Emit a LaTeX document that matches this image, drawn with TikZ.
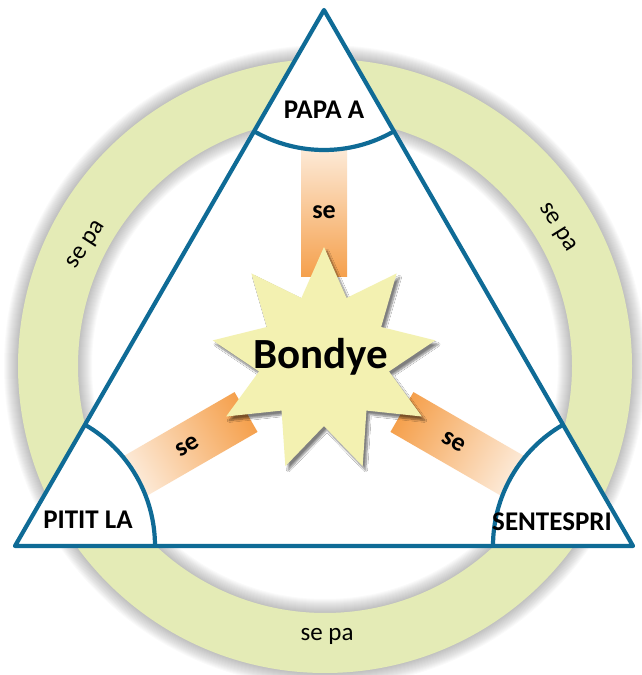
\documentclass[tikz,border=0pt]{standalone}
\usepackage{fontspec}
\setmainfont{Carlito}
\usetikzlibrary{shadows.blur}
\definecolor{triblue}{HTML}{0F6B96}
\definecolor{ringgreen}{HTML}{E4EBB6}
\definecolor{staryellow}{HTML}{F3F1B1}
\definecolor{beamorange}{HTML}{F5A04C}
\definecolor{beampeach}{HTML}{FDEEDF}
\tikzset{
  side/.style={draw=triblue,line width=4.2pt,line join=round},
  corner/.style={font=\bfseries\fontsize{27}{27}\selectfont,text=black},
  beamlabel/.style={font=\bfseries\fontsize{26}{26}\selectfont},
  ringlabel/.style={font=\fontsize{25}{25}\selectfont},
}
\begin{document}
\begin{tikzpicture}[x=1pt,y=1pt]
  \useasboundingbox (0,0) rectangle (641,675);
  \coordinate (O) at (325,309);
  \coordinate (C) at (324,308);
  \coordinate (S) at (324,315);
  \coordinate (A) at (324,665);
  \coordinate (BL) at (15,129);
  \coordinate (BR) at (633,129);
  % ring with its soft edge
  \foreach \w in {2,4,...,28}{
    \draw[black,opacity=.02,line width=\w pt] (O) circle (307) (O) circle (247);
  }
  \fill[ringgreen,even odd rule] (O) circle (307) (O) circle (247);
  \fill[white] (A) -- (BL) -- (BR) -- cycle;
  % beams
  \foreach \r in {0,120,240}{
    \shade[transform canvas={rotate around={\r:(C)}},top color=beampeach,bottom color=beamorange]
      ([shift={(-23,90)}]C) rectangle ([shift={(23,225)}]C);
  }
  \fill[white] (A) -- ++(240:140) arc (240:300:140) -- cycle;
  \fill[white] (BL) -- ++(0:140) arc (0:60:140) -- cycle;
  \fill[white] (BR) -- ++(120:140) arc (120:180:140) -- cycle;
  % star
  \path[fill=staryellow,blur shadow={shadow xshift=3pt,shadow yshift=-4pt,shadow blur steps=8,shadow opacity=50}]
    ([shift={(70:66)}]S)
    \foreach \i in {0,...,8}{ -- ([shift={(90+40*\i:113)}]S) -- ([shift={(110+40*\i:66)}]S) } -- cycle;
  \node[font=\bfseries\fontsize{43}{43}\selectfont] (bondye) at (321,318) {Bondye};
  \node[beamlabel] (seA) at ([shift={(90:155)}]C) {se};
  \node[beamlabel,rotate=30] (seB) at ([shift={(210:158)}]C) {se};
  \node[beamlabel,rotate=-30] (seC) at ([shift={(330:150)}]C) {se};
  % triangle
  \draw[side] ([shift={(240:140)}]A) arc (240:300:140);
  \draw[side] ([shift={(0:140)}]BL) arc (0:60:140);
  \draw[side] ([shift={(120:140)}]BR) arc (120:180:140);
  \draw[side] (A) -- (BL) -- (BR) -- cycle;
  \node[corner] (papa) at (324,565) {PAPA A};
  \node[corner] (pitit) at (88,155) {PITIT LA};
  \node[corner] (sentespri) at (552,153) {SENTESPRI};
  % ring labels
  \node[ringlabel,rotate=57] (sepaL) at (87,430) {se pa};
  \node[ringlabel,rotate=-58] (sepaR) at (557,447) {se pa};
  \node[ringlabel] (sepaB) at (327,39) {se pa};
\end{tikzpicture}
\end{document}
